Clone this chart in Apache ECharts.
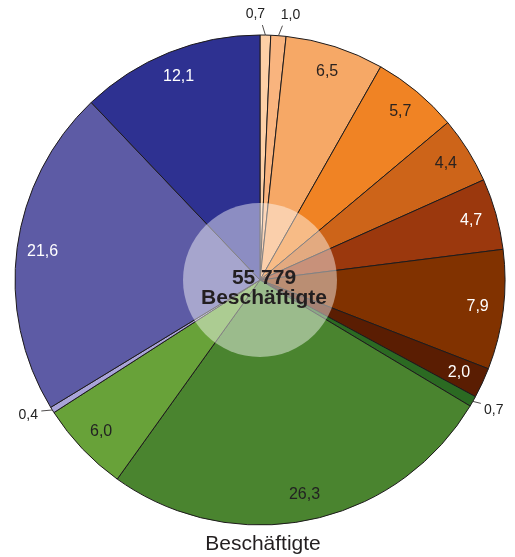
<!DOCTYPE html>
<html>
<head>
<meta charset="utf-8">
<style>
  html, body { margin: 0; padding: 0; background: #ffffff; }
  #chart { width: 515px; height: 557px; }
</style>
<script src="https://cdn.jsdelivr.net/npm/echarts@6/dist/echarts.min.js"></script>
</head>
<body>
<div id="chart"></div>
<script>
// Shares of employees (percent), clockwise from twelve o'clock
const shares = [0.7, 1.0, 6.5, 5.7, 4.4, 4.7, 7.9, 2.0, 0.7, 26.3, 6.0, 0.4, 21.6, 12.1];
const totalEmployed = 55779;
const centerUnit = 'Beschäftigte';
const chartTitle = 'Beschäftigte';

// Slice fills, same order as shares
const sliceColors = ['#fdd0a6', '#f9b47e', '#f6a866', '#f08324', '#cd6419', '#9b380d',
                     '#813200', '#5a1d02', '#2b6a22', '#4a842f', '#68a239', '#a9a4d9',
                     '#5d5ba5', '#2e3191'];
// Label colours (dark text on light fills, white on dark fills)
const labelColors = ['#222', '#222', '#2b2320', '#2b2320', '#2b2320', '#fff', '#fff', '#fff',
                     '#222', '#222', '#222', '#222', '#fff', '#fff'];

const FONT = '"Liberation Sans", Arial, Helvetica, sans-serif';
const CX = 260, CY = 280, R = 245, HOLE = 77;

const fmt = v => v.toFixed(1).replace('.', ',');
const fmtTotal = n => String(n).replace(/\B(?=(\d{3})+(?!\d))/g, ' ');

// Mid angle of each slice (radians, clockwise from top)
const sum = shares.reduce((a, b) => a + b, 0);
const midAngles = [];
let acc = 0;
shares.forEach(v => { midAngles.push((acc + v / 2) / sum * Math.PI * 2); acc += v; });

const isSmall = v => v < 1.5;

// Leader line end offsets and label offsets for the small outside slices
const outsideStyle = {
  0:  { end: [-3, -10], label: [-7, -11] },
  1:  { end: [4, -10],  label: [8, -11] },
  8:  { end: [8, 2],    label: [13, 7] },
  11: { end: [-11, 1],  label: [-13, 4] }
};

const pieData = shares.map((v, i) => {
  const item = {
    value: v,
    itemStyle: { color: sliceColors[i] },
    label: { color: labelColors[i] }
  };
  if (isSmall(v)) {
    item.label.position = 'outside';
    item.label.fontSize = 14;
    item.labelLine = { show: true };
  }
  return item;
});

const chart = echarts.init(document.getElementById('chart'), null, { renderer: 'canvas' });

chart.setOption({
  animation: false,
  backgroundColor: '#ffffff',
  title: [
    {
      text: chartTitle,
      left: 258, top: 529, textAlign: 'center',
      textStyle: { fontFamily: FONT, fontSize: 21, fontWeight: 'normal', color: '#231f20' }
    },
    {
      text: fmtTotal(totalEmployed) + '\n' + centerUnit,
      left: CX - 1, top: CY - 17, textAlign: 'center',
      textStyle: { fontFamily: FONT, fontSize: 21, fontWeight: 'bold', color: '#231f20', lineHeight: 20 }
    }
  ],
  series: [
    {
      type: 'pie',
      center: [CX, CY],
      radius: [0, R],
      startAngle: 90,
      clockwise: true,
      avoidLabelOverlap: false,
      silent: true,
      itemStyle: { borderColor: '#1e1b1c', borderWidth: 1 },
      label: {
        show: true,
        position: 'inside',
        fontFamily: FONT,
        fontSize: 16,
        formatter: p => fmt(p.value)
      },
      labelLine: {
        show: false,
        length: 8, length2: 0,
        lineStyle: { color: '#231f20', width: 0.8 }
      },
      labelLayout: function (params) {
        const i = params.dataIndex;
        const a = midAngles[i];
        const ux = Math.sin(a), uy = -Math.cos(a);
        if (isSmall(shares[i])) {
          const st = outsideStyle[i] || { end: [ux * 9, uy * 9], label: [ux * 18, uy * 18] };
          const p0 = [CX + ux * R, CY + uy * R];
          const p1 = [p0[0] + st.end[0], p0[1] + st.end[1]];
          return {
            x: p1[0] + st.label[0], y: p1[1] + st.label[1],
            align: 'center', verticalAlign: 'middle',
            labelLinePoints: [p0, p1, p1]
          };
        }
        const rr = 0.895 * R;
        return { x: CX + ux * rr, y: CY + uy * rr, align: 'center', verticalAlign: 'middle' };
      },
      data: pieData,
      z: 1
    },
    {
      // translucent disc over the middle of the pie
      type: 'pie',
      center: [CX, CY],
      radius: [0, HOLE],
      silent: true,
      label: { show: false },
      labelLine: { show: false },
      itemStyle: { color: 'rgba(255,255,255,0.45)', borderWidth: 0 },
      data: [{ value: 1 }],
      z: 2
    }
  ]
});
</script>
</body>
</html>
